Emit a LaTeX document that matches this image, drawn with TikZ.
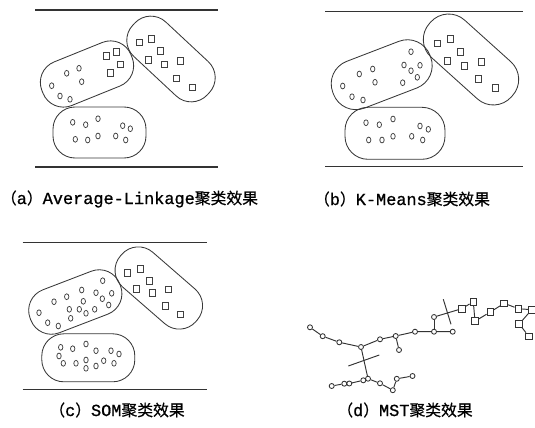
\documentclass[tikz,border=0pt]{standalone}
\usepackage{fontspec}
\newfontfamily\lat[FakeBold=0.9]{Liberation Mono}
\newfontfamily\cjk[FakeBold=0.6]{Noto Sans CJK SC}
\newcommand\zh[1]{{\cjk\fontsize{15.8pt}{18pt}\selectfont #1}}
\newcommand\en[1]{{\lat\fontsize{16.9pt}{18pt}\selectfont #1}}
% small point markers used inside the cluster shapes
\newcommand\pc[2]{\draw[ptline] (#1,#2) ellipse [x radius=2.2pt, y radius=2.9pt];}
\newcommand\ps[2]{\draw[ptline] (#1-3,#2-3.2) rectangle (#1+3,#2+3.2);}
\begin{document}
\begin{tikzpicture}[x=1pt,y=-1pt,
  frame/.style={draw=black!80, line width=1.1pt},
  clus/.style={draw=black!78, line width=0.85pt, inner sep=0pt},
  ptline/.style={draw=black!75, line width=0.75pt},
  edge/.style={draw=black!80, line width=0.95pt},
  mc/.style={circle, draw=black!80, fill=white, line width=0.85pt, inner sep=0pt, minimum size=5pt},
  ms/.style={rectangle, draw=black!80, fill=white, line width=0.85pt, inner sep=0pt, minimum size=6.6pt},
  caption/.style={inner sep=0pt, anchor=center}]
\useasboundingbox (0,0) rectangle (535,428);

% ---------- (a) Average-Linkage ----------
\draw[frame] (35,10) -- (218,10);
\draw[frame] (35,167) -- (218,167);
\node[clus, rounded corners=22pt, minimum width=96pt, minimum height=47pt, rotate=22] (a1) at (87,74) {};
\node[clus, rounded corners=22pt, minimum width=102pt, minimum height=47pt, rotate=-43] (a2) at (171,59) {};
\node[clus, rounded corners=22pt, minimum width=93pt, minimum height=51pt] (a3) at (99.5,132.5) {};
\pc{51.7}{85.7}\pc{66.7}{73.3}\pc{79}{68.3}\pc{81.7}{81.7}\pc{60}{96}\pc{70}{99.3}
\ps{106.7}{56}\ps{116.7}{51.7}\ps{120}{64.3}\ps{110}{72.7}
\ps{139.3}{42.3}\ps{151.7}{39}\ps{160.7}{51}\ps{148.3}{60}\ps{164.3}{64.3}\ps{180}{60.7}\ps{176.7}{78.3}\ps{192.3}{87.3}
\pc{72.7}{122.3}\pc{85.7}{124.7}\pc{98}{118.7}\pc{122.7}{125.7}\pc{130.3}{128.7}
\pc{75.3}{139.3}\pc{87.7}{140}\pc{98}{136}\pc{115.7}{136}\pc{125.7}{140}

% ---------- (b) K-Means ----------
\draw[frame] (325,11.7) -- (522.7,11.7);
\draw[frame] (325,166.7) -- (522.7,166.7);
\node[clus, rounded corners=24pt, minimum width=104pt, minimum height=50pt, rotate=21] (b1) at (381.7,74.7) {};
\node[clus, rounded corners=24pt, minimum width=110pt, minimum height=50pt, rotate=-42] (b2) at (471,59.5) {};
\node[clus, rounded corners=23pt, minimum width=100pt, minimum height=52pt] (b3) at (395,133.3) {};
\pc{411}{51.7}\pc{404}{65}\pc{411}{70.7}\pc{420}{65.3}\pc{417.3}{77.3}\pc{402.7}{82.7}
\pc{372.7}{69}\pc{359.3}{74}\pc{375}{82.3}\pc{342.7}{86}\pc{352}{96.7}\pc{363}{100}
\ps{437.3}{43.3}\ps{450.7}{39}\ps{460.7}{51.7}\ps{447.3}{60.7}\ps{464.3}{65.7}\ps{481}{61.7}\ps{478.3}{79}\ps{495}{87.7}
\pc{366}{122.7}\pc{379.3}{124.7}\pc{393}{119}\pc{420}{126}\pc{428.3}{129.3}
\pc{368.7}{140}\pc{382}{140}\pc{393}{136.3}\pc{411.7}{136.3}\pc{422.7}{140}

% ---------- (c) SOM ----------
\draw[frame] (22.7,242.7) -- (206.7,242.7);
\draw[frame] (22.7,389.3) -- (206.7,389.3);
\node[clus, rounded corners=22pt, minimum width=96pt, minimum height=46pt, rotate=21] (c1) at (75.3,302) {};
\node[clus, rounded corners=22pt, minimum width=100pt, minimum height=46pt, rotate=-41] (c2) at (158.8,288) {};
\node[clus, rounded corners=22pt, minimum width=93pt, minimum height=48pt] (c3) at (88.3,357.8) {};
\pc{102.7}{280.7}\pc{81.7}{290}\pc{96}{292.7}\pc{111.7}{293.3}\pc{102.3}{298.7}\pc{108.7}{305}
\pc{66.7}{296.7}\pc{54}{301.7}\pc{83.3}{301.3}\pc{69.3}{309.3}\pc{79.3}{309.3}\pc{86}{313.3}
\pc{94.7}{309.3}\pc{70.7}{318.3}\pc{39}{312.7}\pc{47.7}{322.7}\pc{58.3}{326}
\ps{127.3}{272.7}\ps{140}{269}\ps{149.3}{280.7}\ps{136.7}{289}\ps{152.7}{292.7}\ps{168.3}{289.3}\ps{165}{306}\ps{180.7}{314.3}
\pc{60.7}{347.3}\pc{72.7}{348.7}\pc{86}{344}\pc{96}{350.7}\pc{111}{350.7}\pc{119}{354}
\pc{59}{356}\pc{63.3}{363.3}\pc{76}{363.3}\pc{86}{360}\pc{86}{368.3}\pc{96}{366}\pc{103.7}{360.7}\pc{114}{363.3}

% ---------- (d) MST ----------
\coordinate (k1a) at (348.3,366);
\coordinate (k1b) at (379.3,355);
\coordinate (k2a) at (443.3,299.3);
\coordinate (k2b) at (451,324.3);
\draw[edge] (k1a) -- (k1b);
\draw[edge] (k2a) -- (k2b);
\node[mc] (m1) at (310,327.3) {};
\node[mc] (m2) at (322.7,336.2) {};
\node[mc] (m3) at (339.3,342.3) {};
\node[mc] (m4) at (361,347) {};
\node[mc] (m5) at (380,339.3) {};
\node[mc] (m6) at (395.7,336) {};
\node[mc] (m7) at (399,350) {};
\node[mc] (m8) at (415,331.7) {};
\node[mc] (m9) at (434,331.7) {};
\node[mc] (m10) at (452.7,331.7) {};
\node[mc] (m11) at (434,317) {};
\node[mc] (l1) at (331.7,386) {};
\node[mc] (l2) at (344.3,383.7) {};
\node[mc] (l3) at (349.3,383.5) {};
\node[mc] (l4) at (363.3,380.3) {};
\node[mc] (l5) at (368,378.7) {};
\node[mc] (l6) at (380,383.3) {};
\node[mc] (l7) at (392.8,390.2) {};
\node[mc] (l8) at (396.8,378.8) {};
\node[mc] (l9) at (412.5,376) {};
\node[ms] (s1) at (461.7,308.7) {};
\node[ms] (s2) at (473.3,301.7) {};
\node[ms] (s3) at (475,321.2) {};
\node[ms] (s4) at (490.3,312) {};
\node[ms] (s5) at (504.2,303.3) {};
\node[ms] (s6) at (518.3,308.7) {};
\node[ms] (s7) at (531.7,309.7) {};
\node[ms] (s8) at (519.2,324) {};
\node[ms] (s9) at (528.8,336.3) {};
\draw[edge] (m1) -- (m2) -- (m3) -- (m4) -- (m5) -- (m6) -- (m8) -- (m9) -- (m10);
\draw[edge] (m6) -- (m7);
\draw[edge] (m9) -- (m11);
\draw[edge] (m11) -- (s1) -- (s2) -- (s3) -- (s4) -- (s5) -- (s6) -- (s7) -- (s8) -- (s9);
\draw[edge] (m4) -- (l5);
\draw[edge] (l1) -- (l2) -- (l3) -- (l4) -- (l5) -- (l6) -- (l7) -- (l8) -- (l9);

% ---------- captions ----------
\node[caption] (ta) at (129.5,199) {\zh{（}\en{a}\zh{）}\en{Average-Linkage}\zh{聚类效果}};
\node[caption] (tb) at (402,199) {\zh{（}\en{b}\zh{）}\en{K-Means}\zh{聚类效果}};
\node[caption] (tc) at (117,410) {\zh{（}\en{c}\zh{）}\en{SOM}\zh{聚类效果}};
\node[caption] (td) at (405,410) {\zh{（}\en{d}\zh{）}\en{MST}\zh{聚类效果}};
\end{tikzpicture}
\end{document}
